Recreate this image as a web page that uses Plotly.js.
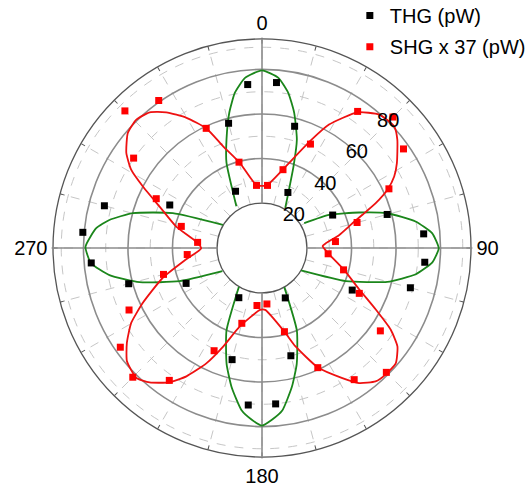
<!DOCTYPE html>
<html>
<head>
<meta charset="utf-8">
<script src="https://cdn.plot.ly/plotly-3.0.1.min.js"></script>
<style>html,body{margin:0;padding:0;background:#fff;}#chart{width:532px;height:487px;}</style>
</head>
<body>
<div id="chart"></div>
<script>
// ---- data ----
const thgAngle = [5,15,25,65,75,85,95,105,115,155,165,175,185,195,205,245,255,265,275,285,295,335,345,355];
const thgValue = [74.4,56.4,27.3,34.8,58.0,72.7,73.2,68.8,44.5,24.5,49.9,70.1,70.6,51.7,24.4,37.4,61.8,76.8,80.6,73.1,45.5,27.9,57.8,73.5];

const shgAngle = [5,15,25,35,45,55,65,75,85,95,105,115,125,135,145,155,165,175,185,195,205,215,225,235,245,255,265,275,285,295,305,315,325,335,345,355];
const shgValue = [28.0,36.2,51.3,74.7,83.0,77.4,62.7,44.0,32.9,29.6,37.7,48.0,64.7,78.8,72.0,59.1,38.7,25.0,25.7,34.8,50.7,72.4,81.9,77.5,65.7,45.6,33.5,28.8,37.3,52.2,70.2,86.9,80.7,59.1,39.7,28.0];

// THG fit curve (four lobes, gaps where it falls inside the hole)
const thgFitAngle = [328.5,337.4,341.9,346.4,350.1,354.3,0,5.5,9.6,13.4,17.8,21.1,30.1, null,
  59.4,63.7,69.9,74.5,80.2,85.0,90.1,94.8,99.7,105.1,111.6,119.9, null,
  150.3,157.1,163.3,167.9,172.9,176.7,180,183.4,187.1,192.3,197.0,203.3,210.8, null,
  239.7,248.1,254.4,259.9,264.9,270.4,276.8,280.4,285.1,291.4,300.7];
const thgFitValue = [21.8,41.3,51.1,62.3,70.6,76.6,79.6,76.6,70.5,62.2,51.0,39.1,20.6, null,
  21.8,33.4,46.2,58.2,69.8,76.5,79.2,76.6,69.9,58.1,40.3,20.0, null,
  20.0,40.0,54.1,63.7,73.4,77.1,79.6,77.1,73.4,63.8,54.2,40.1,20.0, null,
  20.4,39.7,56.9,69.4,76.9,79.1,74.8,69.5,59.9,42.8,20.2];

// SHG fit curve (closed four-lobed loop)
const shgFitAngle = [355.1,4.3,14.9,24.2,28.5,35.1,41.3,47.4,51.3,57.8,61.6,65.1,68.5,71.7,74.7,80.4,85.8,88.1,94.6,104.7,113.1,118.4,122.4,126.0,130.7,135.7,139.6,144.3,148.3,154.9,161.2,165.0,177.0,181.9,195.8,201.5,205.7,210.5,214.5,219.9,224.0,230.0,234.9,240.2,245.3,253.3,261.5,269.7,275.5,284.0,292.0,297.3,300.9,305.0,310.6,315.6,320.4,324.8,329.9,335.1,339.1,345.4,355.1];
const shgFitValue = [28.0,28.0,36.3,52.4,62.9,74.3,79.6,80.5,77.7,71.4,67.3,61.9,54.7,47.3,41.9,35.0,28.5,27.0,29.6,37.7,47.3,57.9,68.3,75.0,79.1,79.3,78.5,74.5,68.5,59.1,46.5,38.7,27.6,27.6,36.4,47.4,57.2,66.7,73.0,78.5,81.0,79.0,74.0,67.5,58.7,46.3,34.2,27.1,29.5,39.5,49.4,60.0,68.3,74.2,79.2,80.5,78.9,74.4,67.4,59.0,48.7,39.3,28.0];

// axes
const radialRange = [19.95, 93.7];
const radialMajor = [20, 40, 60, 80];
const radialLabels = ['20', '40', '60', '80'];
const radialMinor = [30, 50, 70, 90];
const angleMajor = [0, 90, 180, 270];
const angleLabels = ['0', '90', '180', '270'];
const angleMinor = [0,15,30,45,60,75,90,105,120,135,150,165,180,195,210,225,240,255,270,285,300,315,330,345];
const radialLabelAngle = 45;

const FONT = 'Liberation Sans, Arial, Helvetica, sans-serif';

const traces = [
  // carrier for the background (dashed) grid subplot
  {type:'scatterpolar', subplot:'polar', mode:'markers', r:[], theta:[], showlegend:false, hoverinfo:'skip'},
  {type:'scatterpolar', subplot:'polar2', mode:'lines', r:thgFitValue, theta:thgFitAngle,
   line:{color:'#1b861b', width:1.8, shape:'spline', smoothing:0.5}, connectgaps:false, showlegend:false, hoverinfo:'skip'},
  {type:'scatterpolar', subplot:'polar2', mode:'lines', r:shgFitValue, theta:shgFitAngle,
   line:{color:'#ee1111', width:1.8, shape:'spline', smoothing:0.5}, showlegend:false, hoverinfo:'skip'},
  {type:'scatterpolar', subplot:'polar2', mode:'markers', name:'THG (pW)', legend:'legend', r:thgValue, theta:thgAngle,
   marker:{symbol:'square', size:7, color:'#000000'}},
  {type:'scatterpolar', subplot:'polar2', mode:'markers', name:'SHG x 37 (pW)', legend:'legend2', r:shgValue, theta:shgAngle,
   marker:{symbol:'square', size:7, color:'#ff0000'}},
  {type:'scatterpolar', subplot:'polar2', mode:'text', r:radialMajor, theta:radialMajor.map(()=>radialLabelAngle),
   text:radialLabels, textposition:'middle center', textfont:{family:FONT, size:20, color:'#000'},
   cliponaxis:false, showlegend:false, hoverinfo:'skip'}
];

const dom = {x:[53/532, 471/532], y:[30/487, 448/487]};
const legendBase = {xanchor:'left', yanchor:'top', bgcolor:'rgba(0,0,0,0)', font:{family:FONT, size:20, color:'#000'}};

const layout = {
  width:532, height:487,
  margin:{l:0, r:0, t:0, b:0, autoexpand:false},
  paper_bgcolor:'#ffffff',
  font:{family:FONT, size:20, color:'#000'},
  showlegend:true,
  legend:Object.assign({x:0.6576, y:1.0082}, legendBase),
  legend2:Object.assign({x:0.6576, y:0.9442}, legendBase),
  polar:{
    domain:dom, hole:0.215, bgcolor:'#ffffff',
    radialaxis:{range:radialRange, tickvals:radialMinor, showticklabels:false, ticks:'', showline:false,
                gridcolor:'#c6c6c6', griddash:'dash', gridwidth:1},
    angularaxis:{rotation:90, direction:'clockwise', tickvals:angleMinor, showticklabels:false,
                 ticks:'inside', ticklen:4, tickcolor:'#555', gridcolor:'#c6c6c6', griddash:'dash', gridwidth:1,
                 showline:true, linecolor:'#555', linewidth:1.3}
  },
  polar2:{
    domain:dom, hole:0.215, bgcolor:'rgba(0,0,0,0)',
    radialaxis:{range:radialRange, tickvals:radialMajor, showticklabels:false, ticks:'', showline:false,
                gridcolor:'#8c8c8c', gridwidth:1.6},
    angularaxis:{rotation:90, direction:'clockwise', tickvals:angleMajor, ticktext:angleLabels,
                 ticks:'outside', ticklen:1, tickcolor:'#777', gridcolor:'#8c8c8c', gridwidth:1.6,
                 showline:false, tickfont:{family:FONT, size:20, color:'#000'}}
  }
};

Plotly.newPlot('chart', traces, layout, {displayModeBar:false, staticPlot:true});
</script>
</body>
</html>
